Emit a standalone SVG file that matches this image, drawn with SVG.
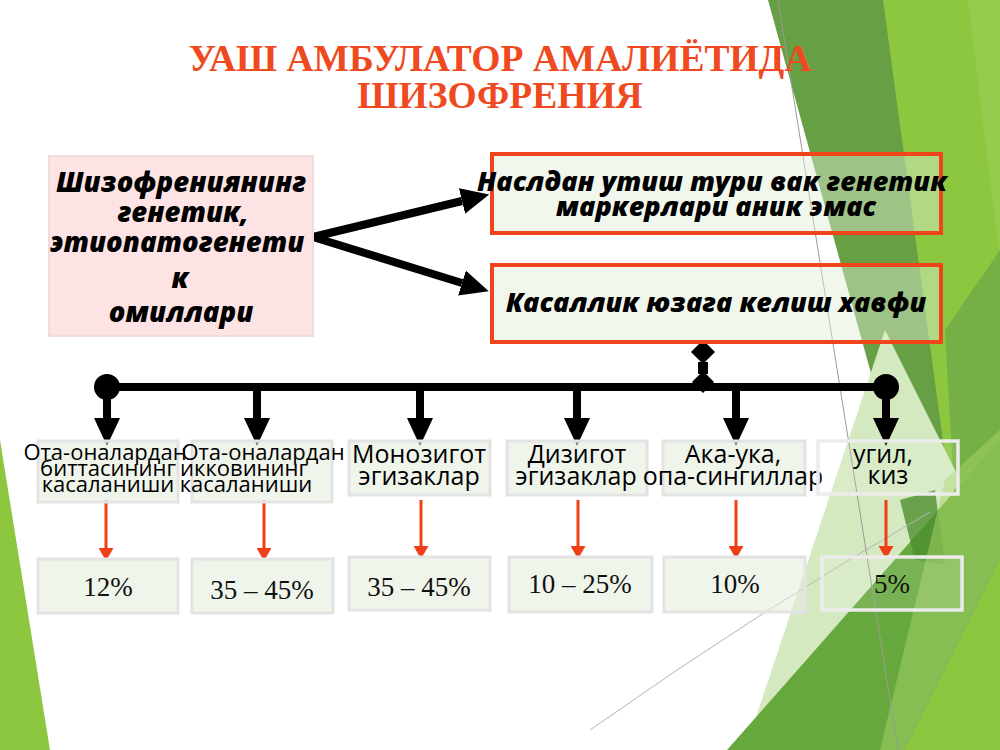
<svg xmlns="http://www.w3.org/2000/svg" width="1000" height="750" viewBox="0 0 1000 750">
<style>
.title{font-family:"Liberation Serif","Times New Roman",serif;font-weight:bold;font-size:37.5px;fill:#ef4a1f;text-anchor:middle}
.bi{font-family:"Open Sans","Noto Sans",sans-serif;font-weight:800;font-style:italic;fill:#000;text-anchor:middle}
.lbl{font-family:"Open Sans","Noto Sans",sans-serif;fill:#000;text-anchor:middle}
.pct{font-family:"Liberation Serif","Times New Roman",serif;font-size:27px;fill:#111;text-anchor:middle}
.redbox{fill:#e2edd8;fill-opacity:0.45;stroke:#f0441a;stroke-width:4}
.gbox{fill:#e4ecda;fill-opacity:0.55;stroke:#e3e3e3;stroke-width:3}
.gbox2{fill:#ffffff;fill-opacity:0.12;stroke:#ececec;stroke-width:3.5}
.blk{stroke:#000;stroke-width:8;fill:none}
.red{stroke:#ee3f16;stroke-width:3;fill:none}
</style>
<defs>
<marker id="ahb" markerUnits="userSpaceOnUse" viewBox="0 0 28 26" refX="0" refY="13" markerWidth="28" markerHeight="26" orient="auto"><path d="M0,0 L28,13 L0,26 z" fill="#000"/></marker>
<marker id="ahr" markerUnits="userSpaceOnUse" viewBox="0 0 13 15" refX="0" refY="7.5" markerWidth="13" markerHeight="15" orient="auto"><path d="M0,0 L13,7.5 L0,15 z" fill="#ee3f16"/></marker>
<clipPath id="clip5"><rect x="630" y="440" width="192" height="60"/></clipPath>
</defs>
<rect width="1000" height="750" fill="#ffffff"/>
<g id="background">
<polygon points="0,440 50,750 0,750" fill="#8dc63f"/>
<polygon points="883,0 1000,0 1000,750 900,750" fill="#8dc63f"/>
<polygon points="968,0 1000,0 1000,260" fill="#9dd056" opacity="0.6"/>
<polygon points="945,330 1000,250 1000,520 960,600" fill="#74b046"/>
<polygon points="768,0 883,0 985,750 975,750" fill="#67a044"/>
<polygon points="885,330 960,480 950,497 756,717" fill="#d5e9c1"/>
<polygon points="727,750 1000,440 1000,750" fill="#66a83e"/>
<polygon points="900,500 935,490 945,565 915,560" fill="#4f8f30" opacity="0.8"/>
<polygon points="945,480 1000,430 1000,560 905,750 880,750" fill="#a7d468" opacity="0.5"/>
<polygon points="1000,560 1000,750 905,750" fill="#8dc63f"/>
<line x1="778" y1="0" x2="898" y2="750" stroke="#9a9a9a" stroke-width="1"/>
<path d="M590,730 Q760,610 930,512" stroke="#b5b5b5" stroke-width="1" fill="none"/>
</g>
<g id="title">
<text class="title" x="500" y="71">УАШ АМБУЛАТОР АМАЛИЁТИДА</text>
<text class="title" x="500" y="108">ШИЗОФРЕНИЯ</text>
</g>
<g id="connectors">
<line class="blk" x1="313" y1="237" x2="462" y2="201" marker-end="url(#ahb)" stroke-width="7"/>
<line class="blk" x1="313" y1="237" x2="462" y2="283" marker-end="url(#ahb)" stroke-width="7"/>
<line class="blk" x1="107" y1="387" x2="886" y2="387" stroke-width="9"/>
<circle cx="107" cy="387" r="13" fill="#000"/>
<circle cx="886" cy="387" r="13" fill="#000"/>
<polygon points="703,340 715,352 703,364 691,352" fill="#000"/>
<rect x="698" y="362" width="10" height="12" fill="#000"/>
<polygon points="703,371 714,382 703,393 692,382" fill="#000"/>
<line class="blk" x1="107" y1="390" x2="107" y2="418" marker-end="url(#ahb)"/>
<line class="blk" x1="257" y1="390" x2="257" y2="418" marker-end="url(#ahb)"/>
<line class="blk" x1="420" y1="390" x2="420" y2="418" marker-end="url(#ahb)"/>
<line class="blk" x1="577" y1="390" x2="577" y2="418" marker-end="url(#ahb)"/>
<line class="blk" x1="736" y1="390" x2="736" y2="418" marker-end="url(#ahb)"/>
<line class="blk" x1="886" y1="390" x2="886" y2="418" marker-end="url(#ahb)"/>
<line class="red" x1="106" y1="500" x2="106" y2="548" marker-end="url(#ahr)"/>
<line class="red" x1="264" y1="500" x2="264" y2="548" marker-end="url(#ahr)"/>
<line class="red" x1="421" y1="500" x2="421" y2="546" marker-end="url(#ahr)"/>
<line class="red" x1="578" y1="500" x2="578" y2="546" marker-end="url(#ahr)"/>
<line class="red" x1="736" y1="500" x2="736" y2="546" marker-end="url(#ahr)"/>
<line class="red" x1="886" y1="500" x2="886" y2="546" marker-end="url(#ahr)"/>
</g>
<g id="node-factors">
<rect x="49" y="156" width="264" height="180" fill="#fde3e3" stroke="#efdcdc" stroke-width="2"/>
<text class="bi" font-size="27.5" x="181" y="192">Шизофрениянинг</text>
<text class="bi" font-size="27.5" x="183" y="222">генетик,</text>
<text class="bi" font-size="27.5" x="177" y="252">этиопатогенети</text>
<text class="bi" font-size="27.5" x="180" y="288">к</text>
<text class="bi" font-size="27.5" x="181" y="322">омиллари</text>
</g>
<g id="node-inheritance">
<rect class="redbox" x="492" y="154" width="449" height="79"/>
<text class="bi" font-size="27" x="712" y="191">Наслдан утиш тури вак генетик</text>
<text class="bi" font-size="27" x="716" y="216">маркерлари аник эмас</text>
</g>
<g id="node-risk">
<rect class="redbox" x="492" y="265" width="449" height="77"/>
<text class="bi" font-size="27" x="716" y="312">Касаллик юзага келиш хавфи</text>
</g>
<g id="node-one-parent">
<rect class="gbox" x="38" y="441" width="140" height="61"/>
<text class="lbl" font-size="22" x="105" y="460">Ота-оналардан</text>
<text class="lbl" font-size="22" x="108" y="476">биттасининг</text>
<text class="lbl" font-size="22" x="108" y="492">касаланиши</text>
</g>
<g id="node-both-parents">
<rect class="gbox" x="192" y="441" width="140" height="61"/>
<text class="lbl" font-size="22" x="263" y="460">Ота-оналардан</text>
<text class="lbl" font-size="22" x="244" y="476">икковининг</text>
<text class="lbl" font-size="22" x="246" y="492">касаланиши</text>
</g>
<g id="node-mono">
<rect class="gbox" x="349" y="441" width="141" height="54"/>
<text class="lbl" font-size="25" x="419" y="463">Монозигот</text>
<text class="lbl" font-size="25" x="419" y="485">эгизаклар</text>
</g>
<g id="node-di">
<rect class="gbox" x="507" y="441" width="140" height="54"/>
<text class="lbl" font-size="25" x="577" y="463">Дизигот</text>
<text class="lbl" font-size="25" x="576" y="485">эгизаклар</text>
</g>
<g id="node-siblings">
<rect class="gbox" x="663" y="441" width="142" height="54"/>
<g clip-path="url(#clip5)">
<text class="lbl" font-size="25" x="733" y="463">Ака-ука,</text>
<text class="lbl" font-size="25" x="733" y="485">опа-сингиллар</text>
</g>
</g>
<g id="node-children">
<rect class="gbox2" x="818" y="441" width="140" height="53"/>
<text class="lbl" font-size="25" x="883" y="463">угил,</text>
<text class="lbl" font-size="25" x="888" y="484">киз</text>
</g>
<g id="pct-1"><rect class="gbox" x="38" y="559" width="140" height="54"/><text class="pct" x="108" y="596">12%</text></g>
<g id="pct-2"><rect class="gbox" x="192" y="559" width="141" height="54"/><text class="pct" x="262" y="599">35 – 45%</text></g>
<g id="pct-3"><rect class="gbox" x="349" y="557" width="141" height="53"/><text class="pct" x="419" y="596">35 – 45%</text></g>
<g id="pct-4"><rect class="gbox" x="509" y="557" width="143" height="55"/><text class="pct" x="580" y="593">10 – 25%</text></g>
<g id="pct-5"><rect class="gbox" x="664" y="557" width="141" height="55"/><text class="pct" x="735" y="593">10%</text></g>
<g id="pct-6"><rect class="gbox2" x="822" y="557" width="140" height="53"/><text class="pct" x="892" y="593">5%</text></g>
</svg>
